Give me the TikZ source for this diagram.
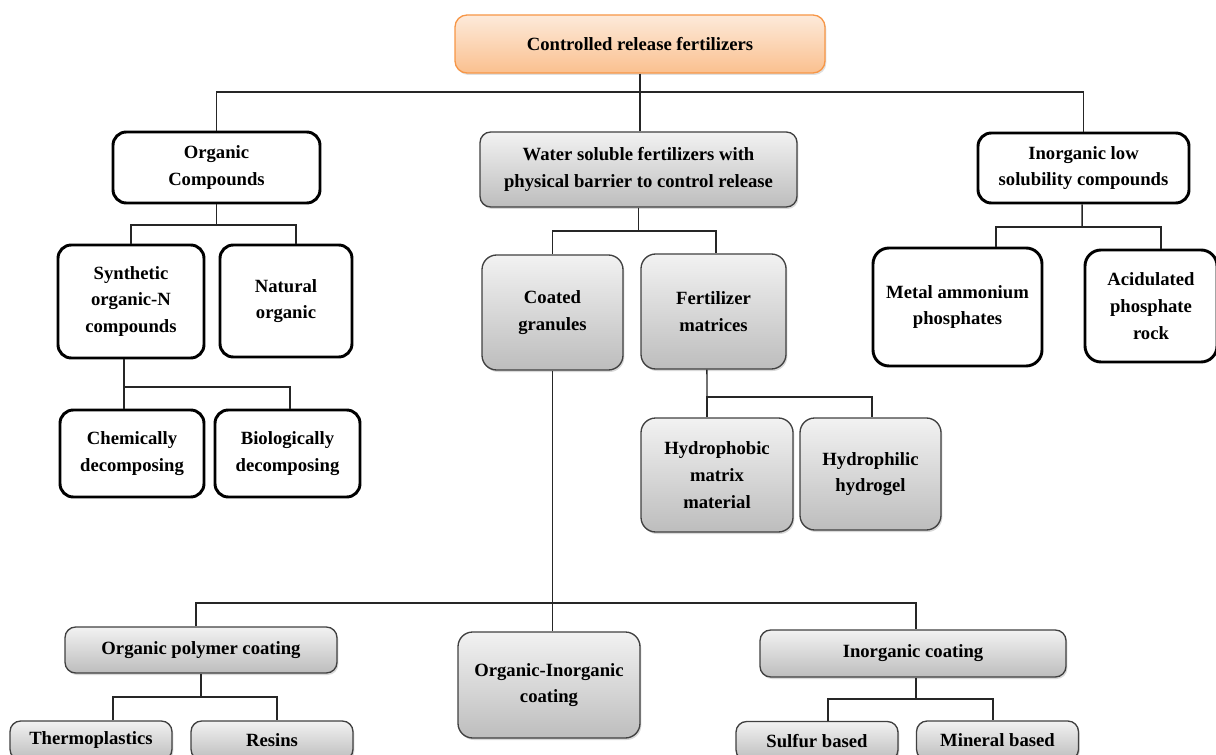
\documentclass[tikz,border=0pt]{standalone}
\usepackage{fontspec}
\setmainfont{Liberation Serif}
\usetikzlibrary{shadows}

\definecolor{orangeline}{HTML}{F79646}
\definecolor{orangetop}{HTML}{FDEADA}
\definecolor{orangebot}{HTML}{FAC08F}
\definecolor{graytop}{HTML}{F2F2F2}
\definecolor{graybot}{HTML}{BDBDBD}

\begin{document}
\begin{tikzpicture}[x=0.75pt, y=-0.75pt,
    box/.style={align=center, inner sep=0pt, font=\fontsize{14}{20}\selectfont\bfseries},
    whitebox/.style={box, draw=black, line width=2.2pt, fill=white, rounded corners=10pt},
    graybox/.style={box, draw=black!75, line width=1pt, top color=graytop, bottom color=graybot,
        rounded corners=8pt, drop shadow={shadow xshift=1pt, shadow yshift=-1.5pt, opacity=0.3}},
    link/.style={line width=1.1pt, black!85}]
    \useasboundingbox (0,0) rectangle (1216,755);

    % root
    \node[box, draw=orangeline, line width=1pt, top color=orangetop, bottom color=orangebot,
        rounded corners=9pt, drop shadow={shadow xshift=1pt, shadow yshift=-1.5pt, opacity=0.25},
        minimum width=277.5pt, minimum height=43.5pt] (top) at (640, 44) {Controlled release fertilizers};

    % first level
    \node[whitebox, minimum width=155.25pt, minimum height=53.25pt] (organic) at (216.5, 167.5) {Organic\\Compounds};
    \node[graybox, minimum width=237.75pt, minimum height=56.25pt] (water) at (638.5, 169.5) {Water soluble fertilizers with\\physical barrier to control release};
    \node[whitebox, minimum width=158.25pt, minimum height=52.5pt] (inorglow) at (1083.5, 168) {Inorganic low\\solubility compounds};

    % organic branch
    \node[whitebox, minimum width=109.5pt, minimum height=84.75pt] (synth) at (131, 301.5) {Synthetic\\organic-N\\compounds};
    \node[whitebox, minimum width=99pt, minimum height=84pt] (natural) at (286, 301) {Natural\\organic};
    \node[whitebox, minimum width=108pt, minimum height=65.25pt] (chem) at (132, 453.5) {Chemically\\decomposing};
    \node[whitebox, minimum width=108.75pt, minimum height=65.25pt] (bio) at (287.5, 453.5) {Biologically\\decomposing};

    % water soluble branch
    \node[graybox, rounded corners=11pt, minimum width=105.75pt, minimum height=86.25pt] (coated) at (552.5, 312.5) {Coated\\granules};
    \node[graybox, rounded corners=11pt, minimum width=108.75pt, minimum height=86.25pt] (fertmat) at (713.5, 311.5) {Fertilizer\\matrices};
    \node[graybox, rounded corners=11pt, minimum width=114pt, minimum height=85.5pt] (hydrophobic) at (717, 475) {Hydrophobic\\matrix\\material};
    \node[graybox, rounded corners=11pt, minimum width=105.75pt, minimum height=84pt] (hydrophilic) at (870.5, 474) {Hydrophilic\\hydrogel};

    % inorganic branch
    \node[whitebox, rounded corners=12pt, minimum width=126.75pt, minimum height=88.5pt] (metal) at (957.5, 307) {Metal ammonium\\phosphates};
    \node[whitebox, rounded corners=12pt, minimum width=99pt, minimum height=84pt] (acid) at (1151, 306) {Acidulated\\phosphate\\rock};

    % coatings
    \node[graybox, minimum width=204pt, minimum height=34.5pt] (orgpoly) at (201, 650) {Organic polymer coating};
    \node[graybox, rounded corners=11pt, minimum width=136.5pt, minimum height=79.5pt] (orginorg) at (549, 685) {Organic-Inorganic\\coating};
    \node[graybox, minimum width=229.5pt, minimum height=35.25pt] (inorgcoat) at (913, 653.5) {Inorganic coating};
    \node[graybox, minimum width=121.5pt, minimum height=29.25pt] (thermo) at (91, 740.5) {Thermoplastics};
    \node[graybox, minimum width=121.5pt, minimum height=29.25pt] (resins) at (272, 740.5) {Resins};
    \node[graybox, minimum width=121.5pt, minimum height=29.25pt] (sulfur) at (817, 741) {Sulfur based};
    \node[graybox, minimum width=121.5pt, minimum height=29.25pt] (mineral) at (997.5, 740.5) {Mineral based};

    % connectors
    \coordinate (rootbus) at (640, 92);
    \draw[link] (top.south) -- (top.south |- water.north);
    \draw[link] (organic.north) |- (rootbus) -| (inorglow.north);

    \coordinate (orgbus) at (216.5, 225);
    \draw[link] (organic.south) -- (orgbus);
    \draw[link] (synth.north) |- (orgbus) -| ([xshift=7.5pt]natural.north);

    \coordinate (synbus) at (124, 387);
    \draw[link] ([xshift=-5.25pt]synth.south) -- (synbus);
    \draw[link] ([xshift=-6pt]chem.north) |- (synbus) -| ([xshift=2pt]bio.north);

    \coordinate (waterbus) at (638.5, 231);
    \draw[link] (water.south) -- (waterbus);
    \draw[link] (coated.north) |- (waterbus) -| ([xshift=2pt]fertmat.north);

    \coordinate (fmbus) at (707, 397);
    \draw[link] ([xshift=-4.9pt]fertmat.south) -- (fmbus);
    \draw[link] ([xshift=-7.5pt]hydrophobic.north) |- (fmbus) -| ([xshift=1pt]hydrophilic.north);

    \coordinate (inbus) at (1082, 227);
    \draw[link] ([xshift=-1pt]inorglow.south) -- (inbus);
    \draw[link] ([xshift=28.9pt]metal.north) |- (inbus) -| ([xshift=7.5pt]acid.north);

    \coordinate (coatbus) at (552.5, 603);
    \draw[link] (coated.south) -- (coated.south |- orginorg.north);
    \draw[link] ([xshift=-3.75pt]orgpoly.north) |- (coatbus) -| ([xshift=2.25pt]inorgcoat.north);

    \coordinate (polybus) at (201, 697);
    \draw[link] (orgpoly.south) -- (polybus);
    \draw[link] ([xshift=16.5pt]thermo.north) |- (polybus) -| ([xshift=3.75pt]resins.north);

    \coordinate (inobus) at (916, 699);
    \draw[link] ([xshift=2.25pt]inorgcoat.south) -- (inobus);
    \draw[link] ([xshift=8.25pt]sulfur.north) |- (inobus) -| ([xshift=-3.4pt]mineral.north);
\end{tikzpicture}
\end{document}
